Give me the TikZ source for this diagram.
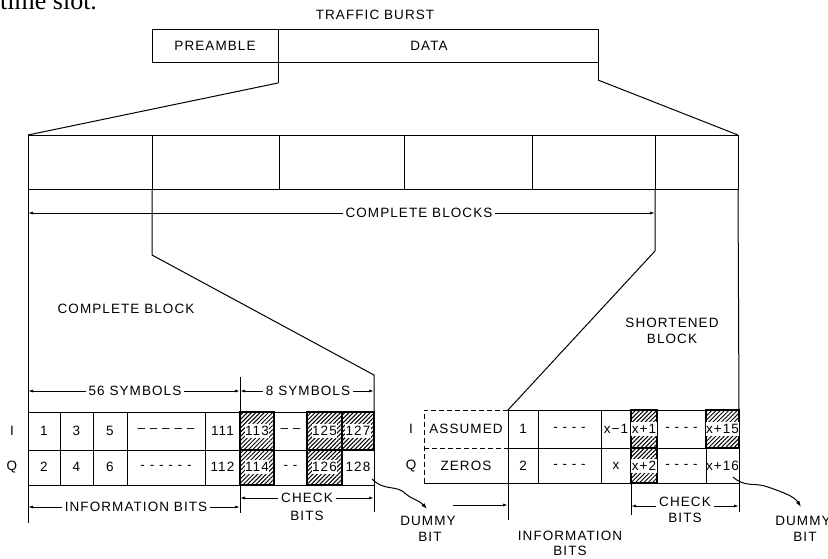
\documentclass[tikz,border=0pt]{standalone}
\usepackage{fontspec}
\setmainfont{Liberation Sans}[LetterSpace=8]
\newfontfamily\seriffnt{Liberation Serif}
\usetikzlibrary{patterns.meta,arrows.meta}
\begin{document}
\begin{tikzpicture}[x=1pt,y=-1pt,
  every node/.style={font=\fontsize{13.5}{15}\selectfont, inner sep=0pt},
  ln/.style={line width=1pt},
  bold ln/.style={line width=1.7pt},
  dimline/.style={line width=0.9pt,{Latex[length=5pt,width=3pt]}-{Latex[length=5pt,width=3pt]}},
  hatch/.style={pattern={Lines[angle=45,distance=3pt,line width=1pt]}},
  h0/.style={},
  h1/.style={fill=white,inner xsep=0.5pt,inner ysep=2.5pt},
  lbl/.style={fill=white,inner xsep=3pt,inner ysep=1pt},
  dashbox/.style={line width=1pt,dash pattern=on 5pt off 3pt},
]
\useasboundingbox (0,0) rectangle (828,558);

% page text fragment
\node[anchor=base west,font=\seriffnt\fontsize{26}{26}\selectfont] (slot) at (0,9) {time slot.};

% ---------- traffic burst ----------
\node (tb) at (375,15) {TRAFFIC BURST};
\draw[ln] (152,29) rectangle (598,62);
\coordinate (pd) at (278,29);
\coordinate (pdb) at (278,83);
\coordinate (dr) at (598,62);
\coordinate (drb) at (598,80);
\draw[ln] (pd) -- (pdb);
\draw[ln] (dr) -- (drb);
\node (pre) at (215,46) {PREAMBLE};
\node (data) at (429,46) {DATA};

% ---------- block row ----------
\coordinate (bl) at (28,135);
\coordinate (br) at (738,135);
\draw[ln] (pdb) -- (bl);
\draw[ln] (drb) -- (br);
\draw[ln] (bl) rectangle (738,189);
\foreach \x in {152,279,404,532,655} \draw[ln] (\x,135) -- (\x,189);

% complete blocks dimension
\coordinate (cbl) at (28,213);
\coordinate (cbr) at (655,213);
\draw[dimline] (cbl) -- (cbr);
\node[lbl] (cbt) at (419,213) {COMPLETE BLOCKS};

% funnel lines
\coordinate (f1) at (152,255);
\coordinate (f2) at (374,375);
\draw[ln] (152,189) -- (f1) -- (f2) -- (374,412);
\draw[ln] (28,189) -- (28,523);
\coordinate (g1) at (655,251);
\coordinate (g2) at (508,410);
\draw[ln] (655,189) -- (g1) -- (g2);
\draw[ln] (738,189) -- (739,410);

\node (cbk) at (126,309) {COMPLETE BLOCK};
\node[align=center] (sbk) at (672,331) {SHORTENED\\[1pt]BLOCK};

% ---------- left table ----------
\draw[ln] (240,377) -- (240,412);
\coordinate (s1) at (28,391);
\coordinate (s2) at (240,391);
\coordinate (s3) at (374,391);
\draw[dimline] (s1) -- (s2);
\draw[dimline] (s2) -- (s3);
\node[lbl] (s56) at (135,391) {56 SYMBOLS};
\node[lbl] (s8) at (308,391) {8 SYMBOLS};

\draw[ln] (28,412) rectangle (374,485);
\draw[ln] (28,450) -- (374,450);
\foreach \x in {60,93,127,205,240,274,307,342} \draw[ln] (\x,412) -- (\x,485);
\foreach \a/\b/\c/\d in {240/274/412/450, 240/274/450/485, 307/342/412/450, 307/342/450/485, 342/374/412/450}
  \draw[bold ln,hatch] (\a,\c) rectangle (\b,\d);

\foreach \a/\b/\t/\h [count=\i] in {28/60/1/0, 60/93/3/0, 93/127/5/0, 127/205/{– – – – –}/0, 205/240/111/0, 240/274/113/1, 274/307/{– –}/0, 307/342/125/1, 342/374/127/1}
  \node[h\h] (la\i) at ({(\a+\b)/2},431) {\t};
\foreach \a/\b/\t/\h [count=\i] in {28/60/2/0, 60/93/4/0, 93/127/6/0, 127/205/{- - - - - -}/0, 205/240/112/0, 240/274/114/1, 274/307/{- -}/0, 307/342/126/1, 342/374/128/0}
  \node[h\h] (lb\i) at ({(\a+\b)/2},467) {\t};
\node (lI) at (12,431) {I};
\node (lQ) at (12,467) {Q};

% below left table
\draw[ln] (240,485) -- (240,513);
\draw[ln] (374,485) -- (374,512);
\coordinate (i1) at (28,507);
\coordinate (i2) at (240,507);
\draw[dimline] (i1) -- (i2);
\node[lbl] (lib) at (136,507) {INFORMATION BITS};
\coordinate (c1) at (240,498);
\coordinate (c2) at (374,498);
\draw[dimline] (c1) -- (c2);
\node[lbl] (lck) at (307,498) {CHECK};
\node (lbt) at (307,516) {BITS};

% dummy bit left
\coordinate (d1) at (372,479);
\node (ldm) at (428,521) {DUMMY};
\node (ldb) at (430,537) {BIT};
\draw[ln,-{Latex[length=6pt,width=4pt]}] (d1) .. controls (385,492) and (396,484) .. (406,494) .. controls (413,500) and (419,500) .. (427,509);

% ---------- right table ----------
\draw[dashbox] (508,410) -- (424,410) -- (424,483);
\draw[dashbox] (424,448) -- (508,448);
\draw[ln] (424,483) -- (508,483);
\draw[ln] (508,410) rectangle (739,483);
\draw[ln] (508,448) -- (739,448);
\foreach \x in {538,601,631,657,706} \draw[ln] (\x,410) -- (\x,483);
\foreach \a/\b/\c/\d in {631/657/410/448, 631/657/448/483, 706/739/410/448}
  \draw[bold ln,hatch] (\a,\c) rectangle (\b,\d);

\foreach \a/\b/\t/\h [count=\i] in {424/508/ASSUMED/0, 508/538/1/0, 538/601/{- - - -}/0, 601/631/x−1/0, 631/657/x+1/1, 657/706/{- - - -}/0, 706/739/x+15/1}
  \node[h\h] (ra\i) at ({(\a+\b)/2},429) {\t};
\foreach \a/\b/\t/\h [count=\i] in {424/508/ZEROS/0, 508/538/2/0, 538/601/{- - - -}/0, 601/631/x/0, 631/657/x+2/1, 657/706/{- - - -}/0, 706/739/x+16/0}
  \node[h\h] (rb\i) at ({(\a+\b)/2},466) {\t};
\node (rI) at (411,429) {I};
\node (rQ) at (411,466) {Q};

% below right table
\draw[ln] (508,483) -- (508,520);
\draw[ln] (631,483) -- (631,515);
\draw[ln] (739,483) -- (739,512);
\coordinate (ri1) at (453,505);
\coordinate (ri2) at (508,505);
\draw[ln,-{Latex[length=5pt,width=3pt]}] (ri1) -- (ri2);
\node (rin) at (570,536) {INFORMATION};
\node (rib) at (570,551) {BITS};
\coordinate (rc1) at (631,506);
\coordinate (rc2) at (739,506);
\draw[dimline] (rc1) -- (rc2);
\node[lbl] (rck) at (685,502) {CHECK};
\node (rbt) at (685,518) {BITS};

% dummy bit right
\coordinate (e1) at (733,477);
\node (rdm) at (803,521) {DUMMY};
\node (rdb) at (805,537) {BIT};
\draw[ln,-{Latex[length=6pt,width=4pt]}] (e1) .. controls (745,488) and (755,482) .. (768,487) .. controls (782,492) and (794,496) .. (801,507);
\end{tikzpicture}
\end{document}
